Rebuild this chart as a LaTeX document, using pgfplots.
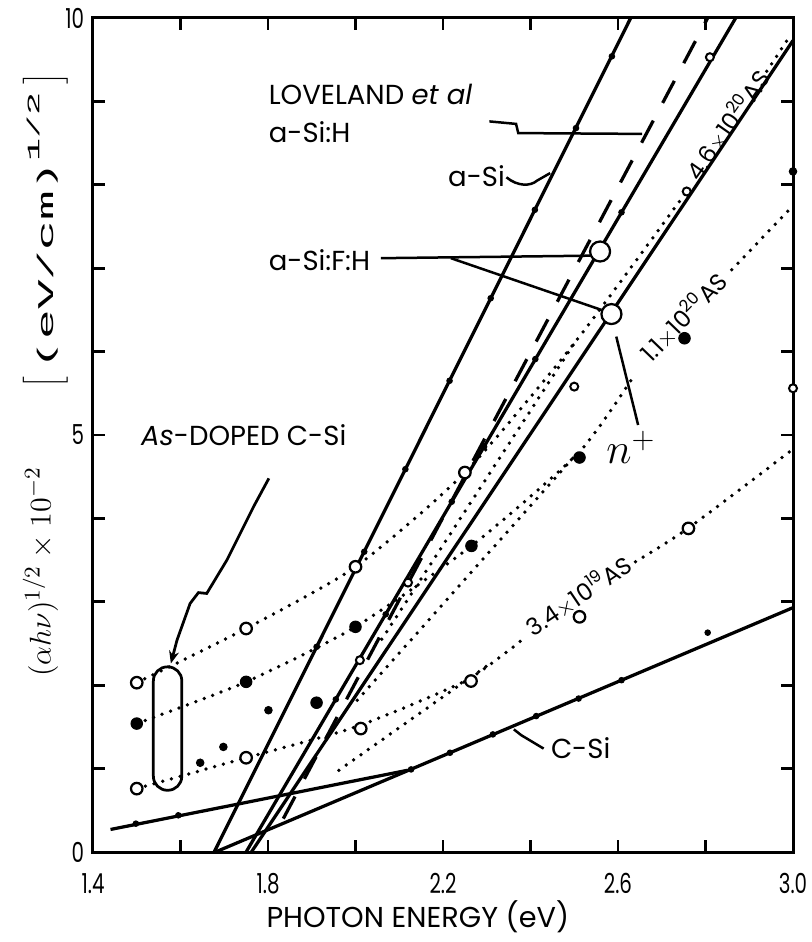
\documentclass[border=0pt]{standalone}
\usepackage{pgfplots}
\pgfplotsset{compat=1.18}
\usepackage{fontspec}
\setmainfont{Poppins}
\newfontfamily\condfont[FakeStretch=0.72]{Poppins}
\newfontfamily\widefont[FakeStretch=2.2]{Liberation Mono}
\usetikzlibrary{arrows.meta}
\begin{document}
\begin{tikzpicture}[
  dotline/.style={line width=1.5pt, dash pattern=on 0pt off 3.6pt, line cap=round},
  solidline/.style={line width=1.3pt},
  conn/.style={line width=1pt},
  lab/.style={font=\fontsize{11}{13}\selectfont, inner sep=1pt},
  smalldot/.style={only marks, mark=*, mark size=1.1pt},
  opencirc/.style={only marks, mark=*, mark size=2.3pt, mark options={fill=white, draw=black, line width=0.9pt}},
  filledcirc/.style={only marks, mark=*, mark size=2.3pt},
]
\begin{axis}[
  scale only axis, width=280pt, height=333.6pt,
  xmin=1.4, xmax=3.0, ymin=0, ymax=10,
  axis line style={line width=1.2pt},
  tick align=inside, major tick length=4.8pt,
  tick style={line width=1.1pt, black},
  xtick={1.4,1.6,1.8,2.0,2.2,2.4,2.6,2.8,3.0},
  xticklabels={1.4,,1.8,,2.2,,2.6,,3.0},
  ytick={0,1,2,3,4,5,6,7,8,9,10},
  yticklabels={0,,,,,5,,,,,10},
  ticklabel style={font=\condfont\fontsize{11}{12}\selectfont},
  xticklabel style={yshift=-5pt},
]
% straight lines
\addplot[solidline] coordinates {(1.677,0) (2.629,10)};      % a-Si
\addplot[solidline] coordinates {(1.75,0) (2.869,10)};       % a-Si:F:H
\addplot[solidline] coordinates {(1.762,0) (3.0,9.73)};      % n+ a-Si:F:H
\addplot[line width=1.3pt, dash pattern=on 10pt off 8pt] coordinates {(1.835,0.4) (2.805,10)}; % Loveland a-Si:H
\addplot[solidline] coordinates {(1.68,0) (3.0,2.93)};       % c-Si
\addplot[solidline] coordinates {(1.44,0.27) (2.119,0.98)};  % c-Si low part

% small dots on lines
\addplot[smalldot] coordinates {(1.911,2.46) (2.02,3.60) (2.114,4.59) (2.215,5.65) (2.309,6.64) (2.41,7.70) (2.504,8.68) (2.586,9.54)};
\addplot[smalldot] coordinates {(1.955,1.83) (2.069,2.85) (2.22,4.20) (2.294,4.86) (2.411,5.91) (2.608,7.67)};
\addplot[smalldot] coordinates {(1.498,0.34) (1.595,0.44) (2.127,0.99) (2.216,1.19) (2.314,1.41) (2.413,1.63) (2.51,1.84) (2.608,2.06) (2.805,2.63)};

% As-doped 4.6e20
\addplot[dotline, smooth, tension=0.4] coordinates {(1.5,2.03) (1.75,2.68) (2.0,3.42) (2.25,4.55) (2.5,6.1) (2.757,7.92)};
\addplot[dotline] coordinates {(2.94,9.36) (2.99,9.76)};
\addplot[dotline] coordinates {(2.06,2.55) (2.5,6.1)};
\addplot[opencirc] coordinates {(1.5,2.03) (1.75,2.68) (2.0,3.42) (2.25,4.55)};

% As-doped 1.1e20
\addplot[dotline, smooth, tension=0.4] coordinates {(1.5,1.54) (1.75,2.04) (2.0,2.70) (2.265,3.67) (2.512,4.80) (2.64,5.74)};
\addplot[dotline] coordinates {(2.86,6.98) (3.0,7.75)};
\addplot[dotline] coordinates {(2.004,1.82) (2.5,4.74)};
\addplot[filledcirc] coordinates {(1.5,1.54) (1.75,2.04) (2.0,2.70) (2.265,3.67) (2.512,4.73) (2.752,6.16)};

% As-doped 3.4e19
\addplot[dotline, smooth, tension=0.4] coordinates {(1.5,0.76) (1.75,1.13) (2.0,1.50) (2.25,2.05) (2.38,2.54)};
\addplot[dotline, smooth, tension=0.4] coordinates {(2.64,3.48) (2.76,3.88) (3.0,4.83)};
\addplot[dotline] coordinates {(1.962,0.98) (2.30,2.23)};
\addplot[opencirc] coordinates {(1.5,0.76) (1.75,1.13) (2.012,1.48) (2.264,2.05) (2.512,2.82) (2.761,3.88)};

% extra points
\addplot[smalldot, mark size=1.5pt] coordinates {(1.645,1.07) (1.698,1.26) (1.801,1.70) (3.0,8.16)};
\addplot[filledcirc] coordinates {(1.911,1.79)};
\addplot[only marks, mark=*, mark size=1.6pt, mark options={fill=white, draw=black, line width=0.8pt}] coordinates {(2.01,2.30) (2.12,3.23) (2.50,5.58) (2.757,7.92) (2.81,9.53) (3.0,5.56)};

% big circles a-Si:F:H
\addplot[only marks, mark=*, mark size=4pt, mark options={fill=white, draw=black, line width=0.9pt}] coordinates {(2.559,7.2) (2.585,6.45)};

% annotations
\node[lab, anchor=west] at (axis cs:1.795,9.08) {LOVELAND \textit{et al}};
\node[lab, anchor=west] at (axis cs:1.795,8.63) {a-Si:H};
\draw[conn] (axis cs:2.306,8.76) -- (axis cs:2.367,8.73) -- (axis cs:2.372,8.62) -- (axis cs:2.655,8.61);
\node[lab, anchor=west] at (axis cs:2.205,8.10) {a-Si};
\draw[conn] (axis cs:2.345,8.09) .. controls (axis cs:2.37,7.98) and (axis cs:2.40,7.98) .. (axis cs:2.415,8.05) -- (axis cs:2.445,8.14);
\node[lab, anchor=west] at (axis cs:1.795,7.10) {a-Si:F:H};
\draw[conn] (axis cs:2.058,7.12) -- (axis cs:2.537,7.15);
\draw[conn] (axis cs:2.218,7.12) -- (axis cs:2.562,6.50);
\draw[conn] (axis cs:2.596,6.18) -- (axis cs:2.646,5.12);
\node[font=\fontsize{17}{18}\selectfont] at (axis cs:2.63,4.85) {$n^{+}$};
\node[lab, anchor=west] at (axis cs:1.503,5.0) {\textit{As}-DOPED C-Si};
\draw[line width=1.1pt, -{Stealth[length=5pt, width=4pt]}] (axis cs:1.802,4.48) -- (axis cs:1.767,4.14) -- (axis cs:1.706,3.50) -- (axis cs:1.66,3.10) -- (axis cs:1.641,3.11) -- (axis cs:1.622,2.98) -- (axis cs:1.592,2.54) -- (axis cs:1.578,2.26);
\draw[line width=1.1pt, rounded corners=5.6pt] (axis cs:1.538,0.74) rectangle (axis cs:1.603,2.22);
\node[lab, anchor=west] at (axis cs:2.44,1.24) {C-Si};
\draw[conn] (axis cs:2.362,1.47) -- (axis cs:2.379,1.40) -- (axis cs:2.43,1.24);
\node[rotate=55, font=\fontsize{9.5}{10}\selectfont, inner sep=0pt] at (axis cs:2.85,8.72) {4.6$\times$10\textsuperscript{20}AS};
\node[rotate=46, font=\fontsize{9.5}{10}\selectfont, inner sep=0pt] at (axis cs:2.749,6.42) {1.1$\times$10\textsuperscript{20}AS};
\node[rotate=34, font=\fontsize{9.5}{10}\selectfont, inner sep=0pt] at (axis cs:2.51,3.08) {3.4$\times$10\textsuperscript{19}AS};

\coordinate (SW) at (rel axis cs:0,0);
\coordinate (NE) at (rel axis cs:1,1);
\coordinate (XL) at (rel axis cs:0.464,0);
\coordinate (YA) at (rel axis cs:0,0.336);
\coordinate (YB) at (rel axis cs:0,0.745);
\end{axis}
\node[font=\fontsize{11.5}{13}\selectfont] at ([yshift=-26pt]XL) {PHOTON ENERGY (eV)};
\node[rotate=90, font=\fontsize{13}{14}\selectfont, inner sep=0pt] at ([xshift=-21pt]YA) {$(\alpha h\nu)^{1/2}$\hspace{3pt}$\times$\hspace{3pt}$10^{-2}$};
\node[rotate=90, font=\fontsize{9}{11}\selectfont, inner sep=0pt] at ([xshift=-19pt]YB) {\fontsize{12}{13}\selectfont$\Bigl[$\hspace{3pt}\fontsize{9}{11}\selectfont{\widefont(eV/cm)}\raisebox{1.1ex}{\fontsize{7}{8}\selectfont\widefont 1/2}\hspace{3pt}\fontsize{12}{13}\selectfont$\Bigr]$};
\pgfresetboundingbox
\path[use as bounding box] ([shift={(-37.2pt,-36pt)}]SW) rectangle ([shift={(7.2pt,7.2pt)}]NE);
\end{tikzpicture}
\end{document}
